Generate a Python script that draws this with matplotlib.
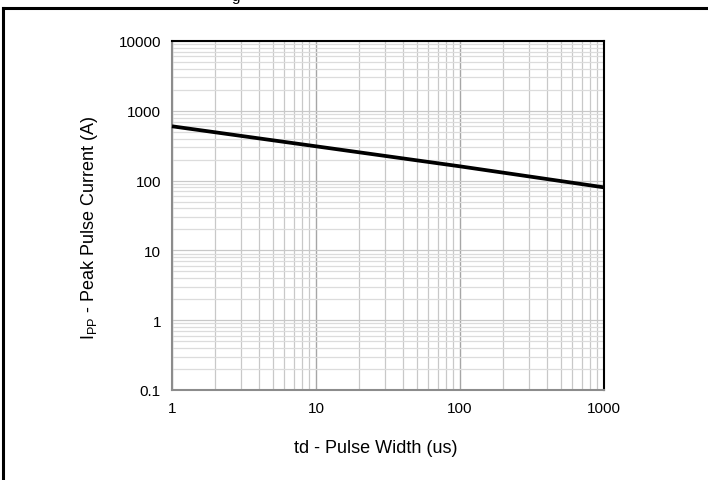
import matplotlib.pyplot as plt
from matplotlib.ticker import FixedLocator, NullFormatter

plt.rcParams['font.family'] = ['Liberation Sans', 'DejaVu Sans']

pulse_width = [1, 10, 100, 1000]          # td (us)
peak_current = [600, 310, 160, 80]        # Ipp (A)
x_ticks = [1, 10, 100, 1000]
x_labels = ['1', '10', '100', '1000']
y_ticks = [0.1, 1, 10, 100, 1000, 10000]
y_labels = ['0.1', '1', '10', '100', '1000', '10000']

W, H = 708, 481
fig = plt.figure(figsize=(7.08, 4.81), dpi=100)
ax = fig.add_axes([172 / W, 1 - 391 / H, (604 - 172) / W, (391 - 42) / H])

ax.set_xscale('log')
ax.set_yscale('log')
ax.set_xlim(1, 1000)
ax.set_ylim(0.1, 10000)

minors_x = [m * 10 ** e for e in range(0, 3) for m in range(2, 10)]
minors_y = [m * 10 ** e for e in range(-1, 4) for m in range(2, 10)]
ax.xaxis.set_minor_locator(FixedLocator(minors_x))
ax.yaxis.set_minor_locator(FixedLocator(minors_y))
ax.xaxis.set_minor_formatter(NullFormatter())
ax.yaxis.set_minor_formatter(NullFormatter())
ax.set_xticks(x_ticks)
ax.set_xticklabels(x_labels)
ax.set_yticks(y_ticks)
ax.set_yticklabels(y_labels)

ax.grid(which='major', axis='x', color='#a6a6a6', lw=1.0)
ax.grid(which='minor', axis='x', color='#c8c8c8', lw=0.9)
ax.grid(which='major', axis='y', color='#c8c8c8', lw=0.9)
ax.grid(which='minor', axis='y', color='#dcdcdc', lw=0.9)
ax.set_axisbelow(True)
ax.tick_params(which='both', length=0, labelsize=11, pad=8)

for s in ['top', 'right']:
    ax.spines[s].set_color('black')
    ax.spines[s].set_linewidth(1.5)
for s in ['left', 'bottom']:
    ax.spines[s].set_color('#8c8c8c')
    ax.spines[s].set_linewidth(1.5)

ax.plot(pulse_width, peak_current, color='black', lw=2.7, solid_capstyle='butt', clip_on=False, zorder=5)

# axis titles placed like the original
fig.text(376 / W, 1 - 449 / H, 'td - Pulse Width (us)', fontsize=13, ha='center', va='center')
fig.text(89 / W, 1 - 228 / H, 'I$_{\\mathregular{PP}}$ - Peak Pulse Current (A)', fontsize=13,
         ha='center', va='center', rotation=90)

# outer frame (top and left only visible)
fig.add_artist(plt.Line2D([3 / W, 1], [1 - 9 / H, 1 - 9 / H], color='black', lw=2.2))
fig.add_artist(plt.Line2D([3 / W, 3 / W], [0, 1 - 9 / H], color='black', lw=2.2))
fig.text(236 / W, 1 - 1 / H, 'g', fontsize=11, ha='center', va='baseline')

fig.savefig('out.png', dpi=100)
